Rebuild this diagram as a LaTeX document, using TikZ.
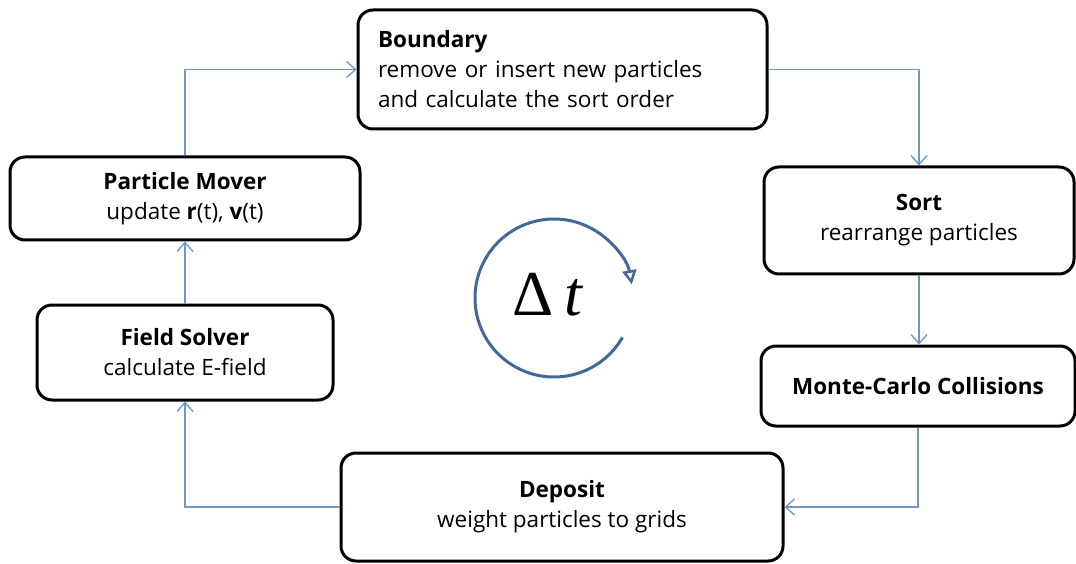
\documentclass[tikz,border=0pt]{standalone}
\usepackage{fontspec}
\setmainfont{Open Sans}
\newfontfamily\serifdt{Liberation Serif}
\usetikzlibrary{arrows.meta}
\definecolor{conn}{RGB}{108,150,208}
\definecolor{cyc}{RGB}{66,104,155}
\tikzset{
  stepbox/.style={draw=black, line width=3pt, rounded corners=15pt, fill=white, align=center, inner sep=0pt, font=\fontsize{22.5}{30}\selectfont},
  conn/.style={draw=conn, line width=1.4pt, -{Straight Barb[length=9pt,width=16pt,line width=1.3pt]}},
}
\begin{document}
\begin{tikzpicture}[x=1pt,y=1pt]
\useasboundingbox (0,0) rectangle (1076,563);
\node[stepbox, minimum width=409pt, minimum height=119pt, text width=369pt, align=left] (bd) at (562.5,493.5)
  {\textbf{Boundary}\\remove or insert new particles\\and calculate the sort order};
\node[stepbox, minimum width=350pt, minimum height=83pt] (pm) at (185,364.5)
  {\textbf{Particle Mover}\\update \textbf{r}(t), \textbf{v}(t)};
\node[stepbox, minimum width=296pt, minimum height=95pt] (fs) at (185,210.5)
  {\textbf{Field Solver}\\calculate E-field};
\node[stepbox, minimum width=310pt, minimum height=107pt] (so) at (919,342.5)
  {\textbf{Sort}\\rearrange particles};
\node[stepbox, minimum width=314pt, minimum height=80pt] (mc) at (918,177)
  {\textbf{Monte-Carlo Collisions}};
\node[stepbox, minimum width=442pt, minimum height=108pt] (dp) at (562,56)
  {\textbf{Deposit}\\weight particles to grids};
\draw[conn] (fs.north) -- (pm.south);
\draw[conn] (pm.north) |- (bd.west);
\draw[conn] (bd.east) -| (so.north);
\draw[conn] (so.south) -- (so.south |- mc.north);
\draw[conn] (mc.south) |- (dp.east);
\draw[conn] (dp.west) -| (fs.south);
\node[font=\serifdt\fontsize{64}{70}\selectfont, inner sep=0pt] (dt) at (548,268) {Δ\,\textit{t}};
\coordinate (cc) at (554,265);
\draw[cyc, line width=3pt, -{Triangle[open, length=14pt, width=14pt, line width=2.5pt]}]
  ([shift={(-30:79pt)}]cc) arc[start angle=-30, end angle=-350, radius=79pt];
\end{tikzpicture}
\end{document}
